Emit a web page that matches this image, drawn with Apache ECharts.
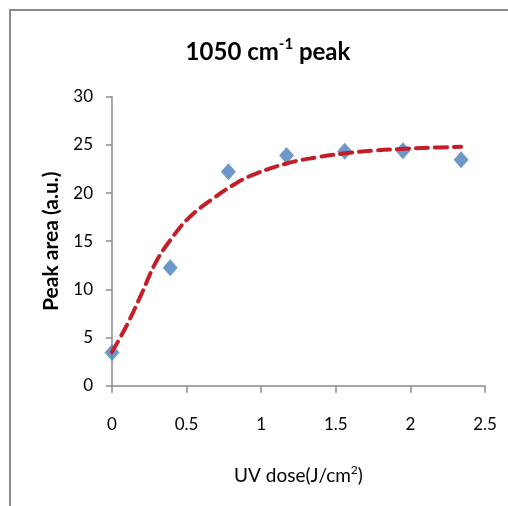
<!DOCTYPE html>
<html>
<head>
<meta charset="utf-8">
<script src="https://cdn.jsdelivr.net/npm/echarts@6/dist/echarts.min.js"></script>
<style>
  html, body { margin: 0; padding: 0; background: #fff; }
  #chart { width: 508px; height: 506px; }
</style>
</head>
<body>
<div id="chart"></div>
<script>
// Measured peak area at each UV dose
const doseValues = [0, 0.39, 0.78, 1.17, 1.56, 1.95, 2.34];
const peakArea = [3.45, 12.25, 22.2, 23.9, 24.35, 24.4, 23.45];

// Fitted trend curve, sampled along the dose range
const trendDose = [0, 0.1, 0.2, 0.29, 0.39, 0.52, 0.68, 0.83, 0.97, 1.19, 1.37, 1.55, 1.75, 1.93, 2.13, 2.34];
const trendArea = [3.5, 6.3, 9.6, 12.7, 15.1, 17.5, 19.45, 21.0, 22.05, 23.15, 23.7, 24.1, 24.4, 24.57, 24.7, 24.8];

// Axis ranges and tick labels
const xTicks = [0, 0.5, 1, 1.5, 2, 2.5];
const yTicks = [0, 5, 10, 15, 20, 25, 30];

const chart = echarts.init(document.getElementById('chart'), null, { renderer: 'canvas' });

const axisGrey = '#8c8c8c';
const labelFont = 'Lato';

chart.setOption({
  animation: false,
  backgroundColor: '#ffffff',
  graphic: [{
    type: 'rect',
    shape: { x: 10, y: 10, width: 520, height: 520 },
    style: { fill: 'none', stroke: '#8a8a8a', lineWidth: 2 },
    silent: true
  }],
  title: {
    text: '{m|1050 cm}{s|-1}{m| peak}',
    left: 263,
    top: 32,
    textAlign: 'center',
    textStyle: {
      rich: {
        m: { fontFamily: 'Lato', fontWeight: 'bold', fontSize: 24, color: '#000', lineHeight: 30 },
        s: { fontFamily: 'Lato', fontWeight: 'bold', fontSize: 15, color: '#000', lineHeight: 16, verticalAlign: 'top' }
      }
    }
  },
  grid: { left: 112, right: 23, top: 96.7, bottom: 120.3 },
  xAxis: {
    type: 'value',
    min: xTicks[0],
    max: xTicks[xTicks.length - 1],
    interval: 0.5,
    name: '{m|UV dose(J/cm}{s|2}{m|)}',
    nameLocation: 'middle',
    nameGap: 78,
    nameTextStyle: {
      rich: {
        m: { fontFamily: 'Lato', fontSize: 19, color: '#000', lineHeight: 24 },
        s: { fontFamily: 'Lato', fontSize: 12, color: '#000', lineHeight: 13, verticalAlign: 'top' }
      }
    },
    axisLine: { lineStyle: { color: axisGrey, width: 1.5 } },
    axisTick: { show: true, inside: false, length: 7, lineStyle: { color: axisGrey, width: 1.5 } },
    axisLabel: {
      margin: 30,
      fontFamily: labelFont,
      fontSize: 17,
      color: '#000',
      formatter: v => String(v)
    },
    splitLine: { show: false }
  },
  yAxis: {
    type: 'value',
    min: yTicks[0],
    max: yTicks[yTicks.length - 1],
    interval: 5,
    name: 'Peak area (a.u.)',
    nameLocation: 'middle',
    nameGap: 50,
    nameTextStyle: { fontFamily: 'Lato', fontWeight: 'bold', fontSize: 21, color: '#000' },
    axisLine: { show: true, lineStyle: { color: axisGrey, width: 1.5 } },
    axisTick: { show: true, inside: false, length: 6, lineStyle: { color: axisGrey, width: 1.5 } },
    axisLabel: {
      margin: 19,
      fontFamily: labelFont,
      fontSize: 17,
      color: '#000'
    },
    splitLine: { show: false }
  },
  series: [
    {
      name: 'Peak area',
      type: 'scatter',
      symbol: 'diamond',
      symbolSize: [15, 17],
      itemStyle: { color: '#4a7ebb' },
      data: doseValues.map((x, i) => [x, peakArea[i]]),
      z: 2
    },
    {
      name: 'Trend',
      type: 'line',
      smooth: 0.4,
      showSymbol: false,
      symbol: 'none',
      lineStyle: { color: '#c41e28', width: 4, type: [12, 7], cap: 'round' },
      data: trendDose.map((x, i) => [x, trendArea[i]]),
      z: 3
    }
  ]
});
</script>
</body>
</html>
